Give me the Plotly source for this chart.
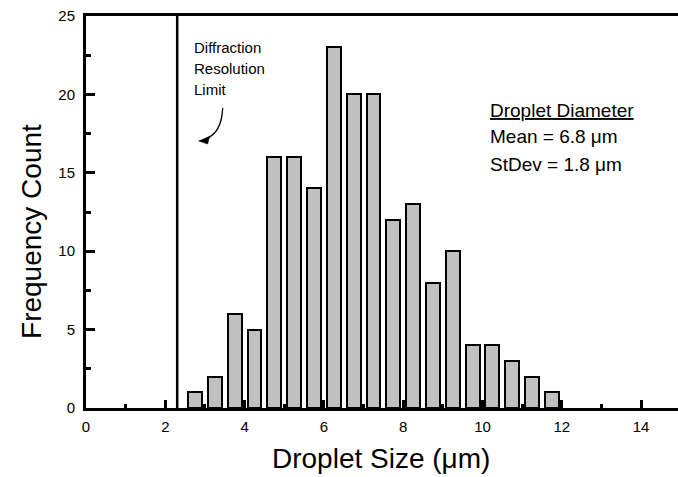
import plotly.graph_objects as go

# Data
bin_centers = [2.75, 3.25, 3.75, 4.25, 4.75, 5.25, 5.75, 6.25, 6.75, 7.25,
               7.75, 8.25, 8.75, 9.25, 9.75, 10.25, 10.75, 11.25, 11.75]
counts = [1, 2, 6, 5, 16, 16, 14, 23, 20, 20, 12, 13, 8, 10, 4, 4, 3, 2, 1]
diffraction_limit = 2.3
x_ticks = [0, 2, 4, 6, 8, 10, 12, 14]
y_ticks = [0, 5, 10, 15, 20, 25]
label_lines = ["Diffraction", "Resolution", "Limit"]
stats_lines = ["<u>Droplet Diameter</u>", "Mean = 6.8 \u03bcm", "StDev = 1.8 \u03bcm"]

FONT = "Arial, Liberation Sans, Helvetica, sans-serif"

fig = go.Figure()
fig.add_trace(go.Bar(
    x=bin_centers, y=counts, width=0.35,
    marker=dict(color="#c0c0c0", line=dict(color="black", width=2)),
    showlegend=False,
))

# Diffraction limit line
fig.add_shape(type="line", xref="x", yref="y",
              x0=diffraction_limit, x1=diffraction_limit, y0=0, y1=25,
              line=dict(color="black", width=2.5))

# Curved arrow
fig.add_shape(type="path", xref="x", yref="y",
              path="M 3.447,19.14 Q 3.422,17.54 3.02,17.16",
              line=dict(color="black", width=1.3))
fig.add_shape(type="path", xref="x", yref="y",
              path="M 2.841,17.03 L 3.119,17.32 L 3.068,16.84 Z",
              fillcolor="black", line=dict(color="black", width=0.5))

annotations = []
for txt, yv in zip(label_lines, [22.99, 21.65, 20.31]):
    annotations.append(dict(x=2.67, y=yv, xref="x", yref="y", text=txt,
                            showarrow=False, xanchor="left", yanchor="middle",
                            font=dict(family=FONT, size=15, color="black")))
for txt, yv in zip(stats_lines, [18.98, 17.32, 15.50]):
    annotations.append(dict(x=10.15, y=yv, xref="x", yref="y", text=txt,
                            showarrow=False, xanchor="left", yanchor="middle",
                            font=dict(family=FONT, size=19, color="black")))
# Axis titles
annotations.append(dict(x=-0.093, y=0.4515, xref="paper", yref="paper",
                        text="Frequency Count", textangle=-90, showarrow=False,
                        xanchor="center", yanchor="middle",
                        font=dict(family=FONT, size=28, color="black")))
annotations.append(dict(x=0.498, y=-0.13, xref="paper", yref="paper",
                        text="Droplet Size (\u03bcm)", showarrow=False,
                        xanchor="center", yanchor="middle",
                        font=dict(family=FONT, size=28, color="black")))

fig.update_layout(
    width=678, height=477,
    margin=dict(l=86, r=0, t=16, b=69),
    paper_bgcolor="white", plot_bgcolor="white",
    font=dict(family=FONT, size=15, color="black"),
    annotations=annotations,
    bargap=0,
)
fig.update_xaxes(
    range=[0, 14.93], showgrid=False, zeroline=False,
    showline=True, linecolor="black", linewidth=3, mirror=True,
    ticks="inside", ticklen=8, tickwidth=2.5, tickcolor="black",
    tickvals=x_ticks, ticktext=[str(v) for v in x_ticks],
    tickfont=dict(family=FONT, size=15, color="black"),
    ticklabelstandoff=3,
    minor=dict(dtick=1, tick0=0, ticks="inside", ticklen=4, tickwidth=2.5, tickcolor="black", showgrid=False),
)
fig.update_yaxes(
    range=[0, 25], showgrid=False, zeroline=False,
    showline=True, linecolor="black", linewidth=3, mirror=False,
    ticks="inside", ticklen=9, tickwidth=2.5, tickcolor="black",
    tickvals=y_ticks, ticktext=[str(v) for v in y_ticks],
    tickfont=dict(family=FONT, size=15, color="black"),
    ticklabelstandoff=5,
    minor=dict(dtick=2.5, tick0=0, ticks="inside", ticklen=5, tickwidth=2.5, tickcolor="black", showgrid=False),
)

fig.write_html("out.html")
